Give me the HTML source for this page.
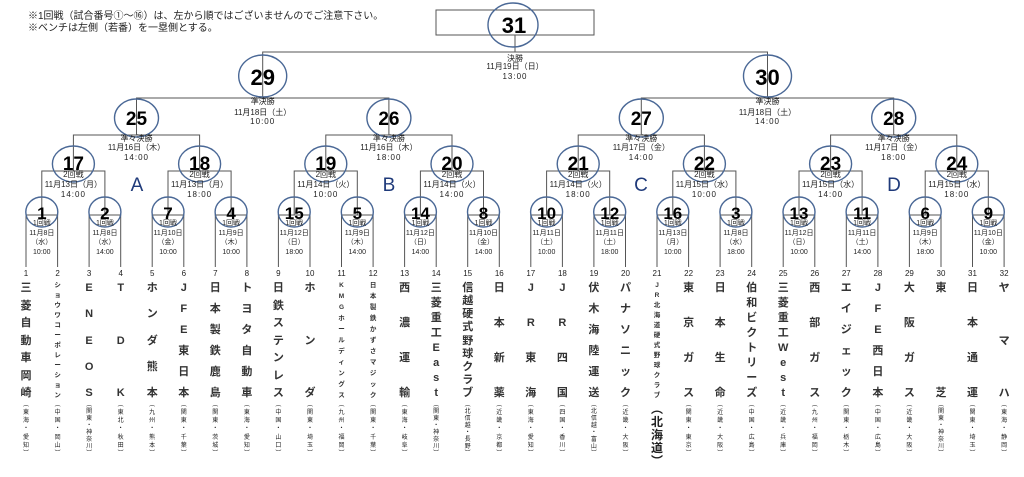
<!DOCTYPE html>
<html><head><meta charset="utf-8">
<style>
body{margin:0;background:#fff;}
#w{position:relative;width:1024px;height:477px;overflow:hidden;font-family:"Liberation Sans","Noto Sans CJK JP",sans-serif;color:#222;}
svg{position:absolute;left:0;top:0;}
.h{position:absolute;left:28px;font-size:10px;line-height:12px;white-space:nowrap;}
.t{position:absolute;top:268px;width:30px;margin-left:-15px;height:200px;}
.n{position:absolute;top:1px;width:30px;text-align:center;font-size:8px;line-height:10px;}
.m{position:absolute;top:14px;height:117px;width:30px;display:flex;flex-direction:column;justify-content:space-between;align-items:center;font-size:11px;line-height:12px;font-weight:bold;color:#333;}
.m.s{font-size:6.5px;line-height:7px;}
.r{position:absolute;top:134px;height:55px;width:30px;display:flex;flex-direction:column;justify-content:space-between;align-items:center;font-size:6px;line-height:6px;}
.r.b{font-size:12px;line-height:13px;top:135px;font-weight:bold;}
</style></head><body><div id="w">
<div class="h" style="top:11px">※1回戦（試合番号①～⑯）は、左から順ではございませんのでご注意下さい。</div>
<div class="h" style="top:23px">※ベンチは左側（若番）を一塁側とする。</div>
<svg width="1024" height="477" viewBox="0 0 1024 477" font-family="Liberation Sans, Noto Sans CJK JP, sans-serif">
<g fill="none" stroke="#555" stroke-width="1">
<rect x="436" y="10" width="158" height="25"/>
<path d="M515 35V52M262.7 98V52H767.5V98"/>
<path d="M136.5 135V98H388.9V135M641.3 135V98H893.7V135"/>
<path d="M73.4 171V135H199.6V171M325.8 171V135H452V171M578.2 171V135H704.4V171M830.6 171V135H956.8V171"/>
<path d="M41.8 215V171H104.9V215M168 215V171H231.1V215M294.2 215V171H357.3V215M420.4 215V171H483.5V215M546.6 215V171H609.7V215M672.8 215V171H735.9V215M799 215V171H862.1V215M925.2 215V171H988.3V215"/>
<path d="M26 267V215H57.6V267M89.1 267V215H120.7V267M152.2 267V215H183.8V267M215.3 267V215H246.9V267M278.4 267V215H310V267M341.5 267V215H373.1V267M404.6 267V215H436.2V267M467.7 267V215H499.3V267M530.8 267V215H562.4V267M593.9 267V215H625.5V267M657 267V215H688.6V267M720.1 267V215H751.7V267M783.2 267V215H814.8V267M846.3 267V215H877.9V267M909.4 267V215H941V267M972.5 267V215H1004.1V267"/>
</g>
<g fill="none" stroke="#4a6896" stroke-width="1.4">
<ellipse cx="513" cy="25" rx="25" ry="22"/>
<ellipse cx="262.7" cy="76" rx="24" ry="21"/><ellipse cx="767.5" cy="76" rx="24" ry="21"/>
<ellipse cx="136.5" cy="118" rx="22" ry="19"/><ellipse cx="388.9" cy="118" rx="22" ry="19"/><ellipse cx="641.3" cy="118" rx="22" ry="19"/><ellipse cx="893.7" cy="118" rx="22" ry="19"/>
<ellipse cx="73.4" cy="164" rx="21" ry="18"/><ellipse cx="199.6" cy="164" rx="21" ry="18"/><ellipse cx="325.8" cy="164" rx="21" ry="18"/><ellipse cx="452" cy="164" rx="21" ry="18"/><ellipse cx="578.2" cy="164" rx="21" ry="18"/><ellipse cx="704.4" cy="164" rx="21" ry="18"/><ellipse cx="830.6" cy="164" rx="21" ry="18"/><ellipse cx="956.8" cy="164" rx="21" ry="18"/>
<ellipse cx="41.8" cy="212" rx="16" ry="15"/><ellipse cx="104.9" cy="212" rx="16" ry="15"/><ellipse cx="168" cy="212" rx="16" ry="15"/><ellipse cx="231.1" cy="212" rx="16" ry="15"/><ellipse cx="294.2" cy="212" rx="16" ry="15"/><ellipse cx="357.3" cy="212" rx="16" ry="15"/><ellipse cx="420.4" cy="212" rx="16" ry="15"/><ellipse cx="483.5" cy="212" rx="16" ry="15"/><ellipse cx="546.6" cy="212" rx="16" ry="15"/><ellipse cx="609.7" cy="212" rx="16" ry="15"/><ellipse cx="672.8" cy="212" rx="16" ry="15"/><ellipse cx="735.9" cy="212" rx="16" ry="15"/><ellipse cx="799" cy="212" rx="16" ry="15"/><ellipse cx="862.1" cy="212" rx="16" ry="15"/><ellipse cx="925.2" cy="212" rx="16" ry="15"/><ellipse cx="988.3" cy="212" rx="16" ry="15"/>
</g>
<g font-weight="bold" text-anchor="middle" fill="#000">
<g font-size="22"><text x="514" y="33">31</text><text x="262.7" y="85">29</text><text x="767.5" y="85">30</text></g>
<g font-size="19"><text x="136.5" y="125">25</text><text x="388.9" y="125">26</text><text x="641.3" y="125">27</text><text x="893.7" y="125">28</text>
<text x="73.4" y="170">17</text><text x="199.6" y="170">18</text><text x="325.8" y="170">19</text><text x="452" y="170">20</text><text x="578.2" y="170">21</text><text x="704.4" y="170">22</text><text x="830.6" y="170">23</text><text x="956.8" y="170">24</text></g>
<g font-size="17"><text x="41.8" y="219">1</text><text x="104.9" y="219">2</text><text x="168" y="219">7</text><text x="231.1" y="219">4</text><text x="294.2" y="219">15</text><text x="357.3" y="219">5</text><text x="420.4" y="219">14</text><text x="483.5" y="219">8</text><text x="546.6" y="219">10</text><text x="609.7" y="219">12</text><text x="672.8" y="219">16</text><text x="735.9" y="219">3</text><text x="799" y="219">13</text><text x="862.1" y="219">11</text><text x="925.2" y="219">6</text><text x="988.3" y="219">9</text></g>
</g>
<g font-size="19" fill="#1f3a7a" text-anchor="middle"><text x="137" y="191">A</text><text x="389" y="191">B</text><text x="641" y="191">C</text><text x="894" y="191">D</text></g>
<g font-size="8" text-anchor="middle" fill="#222">
<text x="515" y="61">決勝</text><text x="515" y="69">11月19日（日）</text><text x="515" y="79" letter-spacing="1">13:00</text>
<text x="262.7" y="104">準決勝</text><text x="262.7" y="115">11月18日（土）</text><text x="262.7" y="124" letter-spacing="1">10:00</text>
<text x="767.5" y="104">準決勝</text><text x="767.5" y="115">11月18日（土）</text><text x="767.5" y="124" letter-spacing="1">14:00</text>
<text x="136.5" y="141">準々決勝</text><text x="136.5" y="150">11月16日（木）</text><text x="136.5" y="160" letter-spacing="1">14:00</text>
<text x="388.9" y="141">準々決勝</text><text x="388.9" y="150">11月16日（木）</text><text x="388.9" y="160" letter-spacing="1">18:00</text>
<text x="641.3" y="141">準々決勝</text><text x="641.3" y="150">11月17日（金）</text><text x="641.3" y="160" letter-spacing="1">14:00</text>
<text x="893.7" y="141">準々決勝</text><text x="893.7" y="150">11月17日（金）</text><text x="893.7" y="160" letter-spacing="1">18:00</text>
<text x="73.4" y="177">2回戦</text><text x="73.4" y="187">11月13日（月）</text><text x="73.4" y="197" letter-spacing="1">14:00</text>
<text x="199.6" y="177">2回戦</text><text x="199.6" y="187">11月13日（月）</text><text x="199.6" y="197" letter-spacing="1">18:00</text>
<text x="325.8" y="177">2回戦</text><text x="325.8" y="187">11月14日（火）</text><text x="325.8" y="197" letter-spacing="1">10:00</text>
<text x="452" y="177">2回戦</text><text x="452" y="187">11月14日（火）</text><text x="452" y="197" letter-spacing="1">14:00</text>
<text x="578.2" y="177">2回戦</text><text x="578.2" y="187">11月14日（火）</text><text x="578.2" y="197" letter-spacing="1">18:00</text>
<text x="704.4" y="177">2回戦</text><text x="704.4" y="187">11月15日（水）</text><text x="704.4" y="197" letter-spacing="1">10:00</text>
<text x="830.6" y="177">2回戦</text><text x="830.6" y="187">11月15日（水）</text><text x="830.6" y="197" letter-spacing="1">14:00</text>
<text x="956.8" y="177">2回戦</text><text x="956.8" y="187">11月15日（水）</text><text x="956.8" y="197" letter-spacing="1">18:00</text>
</g>
<g font-size="7" text-anchor="middle" fill="#222">
<text x="41.8" y="225">1回戦</text><text x="41.8" y="235">11月8日</text><text x="41.8" y="244">（水）</text><text x="41.8" y="254">10:00</text>
<text x="104.9" y="225">1回戦</text><text x="104.9" y="235">11月8日</text><text x="104.9" y="244">（水）</text><text x="104.9" y="254">14:00</text>
<text x="168" y="225">1回戦</text><text x="168" y="235">11月10日</text><text x="168" y="244">（金）</text><text x="168" y="254">10:00</text>
<text x="231.1" y="225">1回戦</text><text x="231.1" y="235">11月9日</text><text x="231.1" y="244">（木）</text><text x="231.1" y="254">10:00</text>
<text x="294.2" y="225">1回戦</text><text x="294.2" y="235">11月12日</text><text x="294.2" y="244">（日）</text><text x="294.2" y="254">18:00</text>
<text x="357.3" y="225">1回戦</text><text x="357.3" y="235">11月9日</text><text x="357.3" y="244">（木）</text><text x="357.3" y="254">14:00</text>
<text x="420.4" y="225">1回戦</text><text x="420.4" y="235">11月12日</text><text x="420.4" y="244">（日）</text><text x="420.4" y="254">14:00</text>
<text x="483.5" y="225">1回戦</text><text x="483.5" y="235">11月10日</text><text x="483.5" y="244">（金）</text><text x="483.5" y="254">14:00</text>
<text x="546.6" y="225">1回戦</text><text x="546.6" y="235">11月11日</text><text x="546.6" y="244">（土）</text><text x="546.6" y="254">10:00</text>
<text x="609.7" y="225">1回戦</text><text x="609.7" y="235">11月11日</text><text x="609.7" y="244">（土）</text><text x="609.7" y="254">18:00</text>
<text x="672.8" y="225">1回戦</text><text x="672.8" y="235">11月13日</text><text x="672.8" y="244">（月）</text><text x="672.8" y="254">10:00</text>
<text x="735.9" y="225">1回戦</text><text x="735.9" y="235">11月8日</text><text x="735.9" y="244">（水）</text><text x="735.9" y="254">18:00</text>
<text x="799" y="225">1回戦</text><text x="799" y="235">11月12日</text><text x="799" y="244">（日）</text><text x="799" y="254">10:00</text>
<text x="862.1" y="225">1回戦</text><text x="862.1" y="235">11月11日</text><text x="862.1" y="244">（土）</text><text x="862.1" y="254">14:00</text>
<text x="925.2" y="225">1回戦</text><text x="925.2" y="235">11月9日</text><text x="925.2" y="244">（木）</text><text x="925.2" y="254">18:00</text>
<text x="988.3" y="225">1回戦</text><text x="988.3" y="235">11月10日</text><text x="988.3" y="244">（金）</text><text x="988.3" y="254">10:00</text>
</g>
</svg>

<div class="t" style="left:26px"><div class="n">1</div><div class="m"><span>三</span><span>菱</span><span>自</span><span>動</span><span>車</span><span>岡</span><span>崎</span></div><div class="r"><span>︵</span><span>東</span><span>海</span><span>・</span><span>愛</span><span>知</span><span>︶</span></div></div>
<div class="t" style="left:57.6px"><div class="n">2</div><div class="m s"><span>シ</span><span>ョ</span><span>ウ</span><span>ワ</span><span>コ</span><span>ー</span><span>ポ</span><span>レ</span><span>ー</span><span>シ</span><span>ョ</span><span>ン</span></div><div class="r"><span>︵</span><span>中</span><span>国</span><span>・</span><span>岡</span><span>山</span><span>︶</span></div></div>
<div class="t" style="left:89.1px"><div class="n">3</div><div class="m"><span>E</span><span>N</span><span>E</span><span>O</span><span>S</span></div><div class="r"><span>︵</span><span>関</span><span>東</span><span>・</span><span>神</span><span>奈</span><span>川</span><span>︶</span></div></div>
<div class="t" style="left:120.7px"><div class="n">4</div><div class="m"><span>T</span><span>D</span><span>K</span></div><div class="r"><span>︵</span><span>東</span><span>北</span><span>・</span><span>秋</span><span>田</span><span>︶</span></div></div>
<div class="t" style="left:152.2px"><div class="n">5</div><div class="m"><span>ホ</span><span>ン</span><span>ダ</span><span>熊</span><span>本</span></div><div class="r"><span>︵</span><span>九</span><span>州</span><span>・</span><span>熊</span><span>本</span><span>︶</span></div></div>
<div class="t" style="left:183.8px"><div class="n">6</div><div class="m"><span>J</span><span>F</span><span>E</span><span>東</span><span>日</span><span>本</span></div><div class="r"><span>︵</span><span>関</span><span>東</span><span>・</span><span>千</span><span>葉</span><span>︶</span></div></div>
<div class="t" style="left:215.3px"><div class="n">7</div><div class="m"><span>日</span><span>本</span><span>製</span><span>鉄</span><span>鹿</span><span>島</span></div><div class="r"><span>︵</span><span>関</span><span>東</span><span>・</span><span>茨</span><span>城</span><span>︶</span></div></div>
<div class="t" style="left:246.9px"><div class="n">8</div><div class="m"><span>ト</span><span>ヨ</span><span>タ</span><span>自</span><span>動</span><span>車</span></div><div class="r"><span>︵</span><span>東</span><span>海</span><span>・</span><span>愛</span><span>知</span><span>︶</span></div></div>
<div class="t" style="left:278.4px"><div class="n">9</div><div class="m"><span>日</span><span>鉄</span><span>ス</span><span>テ</span><span>ン</span><span>レ</span><span>ス</span></div><div class="r"><span>︵</span><span>中</span><span>国</span><span>・</span><span>山</span><span>口</span><span>︶</span></div></div>
<div class="t" style="left:310px"><div class="n">10</div><div class="m"><span>ホ</span><span>ン</span><span>ダ</span></div><div class="r"><span>︵</span><span>関</span><span>東</span><span>・</span><span>埼</span><span>玉</span><span>︶</span></div></div>
<div class="t" style="left:341.5px"><div class="n">11</div><div class="m s"><span>K</span><span>M</span><span>G</span><span>ホ</span><span>ー</span><span>ル</span><span>デ</span><span>ィ</span><span>ン</span><span>グ</span><span>ス</span></div><div class="r"><span>︵</span><span>九</span><span>州</span><span>・</span><span>福</span><span>岡</span><span>︶</span></div></div>
<div class="t" style="left:373.1px"><div class="n">12</div><div class="m s"><span>日</span><span>本</span><span>製</span><span>鉄</span><span>か</span><span>ず</span><span>さ</span><span>マ</span><span>ジ</span><span>ッ</span><span>ク</span></div><div class="r"><span>︵</span><span>関</span><span>東</span><span>・</span><span>千</span><span>葉</span><span>︶</span></div></div>
<div class="t" style="left:404.6px"><div class="n">13</div><div class="m"><span>西</span><span>濃</span><span>運</span><span>輸</span></div><div class="r"><span>︵</span><span>東</span><span>海</span><span>・</span><span>岐</span><span>阜</span><span>︶</span></div></div>
<div class="t" style="left:436.2px"><div class="n">14</div><div class="m"><span>三</span><span>菱</span><span>重</span><span>工</span><span>E</span><span>a</span><span>s</span><span>t</span></div><div class="r"><span>︵</span><span>関</span><span>東</span><span>・</span><span>神</span><span>奈</span><span>川</span><span>︶</span></div></div>
<div class="t" style="left:467.7px"><div class="n">15</div><div class="m"><span>信</span><span>越</span><span>硬</span><span>式</span><span>野</span><span>球</span><span>ク</span><span>ラ</span><span>ブ</span></div><div class="r"><span>︵</span><span>北</span><span>信</span><span>越</span><span>・</span><span>長</span><span>野</span><span>︶</span></div></div>
<div class="t" style="left:499.3px"><div class="n">16</div><div class="m"><span>日</span><span>本</span><span>新</span><span>薬</span></div><div class="r"><span>︵</span><span>近</span><span>畿</span><span>・</span><span>京</span><span>都</span><span>︶</span></div></div>
<div class="t" style="left:530.8px"><div class="n">17</div><div class="m"><span>J</span><span>R</span><span>東</span><span>海</span></div><div class="r"><span>︵</span><span>東</span><span>海</span><span>・</span><span>愛</span><span>知</span><span>︶</span></div></div>
<div class="t" style="left:562.4px"><div class="n">18</div><div class="m"><span>J</span><span>R</span><span>四</span><span>国</span></div><div class="r"><span>︵</span><span>四</span><span>国</span><span>・</span><span>香</span><span>川</span><span>︶</span></div></div>
<div class="t" style="left:593.9px"><div class="n">19</div><div class="m"><span>伏</span><span>木</span><span>海</span><span>陸</span><span>運</span><span>送</span></div><div class="r"><span>︵</span><span>北</span><span>信</span><span>越</span><span>・</span><span>富</span><span>山</span><span>︶</span></div></div>
<div class="t" style="left:625.5px"><div class="n">20</div><div class="m"><span>パ</span><span>ナ</span><span>ソ</span><span>ニ</span><span>ッ</span><span>ク</span></div><div class="r"><span>︵</span><span>近</span><span>畿</span><span>・</span><span>大</span><span>阪</span><span>︶</span></div></div>
<div class="t" style="left:657px"><div class="n">21</div><div class="m s"><span>J</span><span>R</span><span>北</span><span>海</span><span>道</span><span>硬</span><span>式</span><span>野</span><span>球</span><span>ク</span><span>ラ</span><span>ブ</span></div><div class="r b"><span>︵</span><span>北</span><span>海</span><span>道</span><span>︶</span></div></div>
<div class="t" style="left:688.6px"><div class="n">22</div><div class="m"><span>東</span><span>京</span><span>ガ</span><span>ス</span></div><div class="r"><span>︵</span><span>関</span><span>東</span><span>・</span><span>東</span><span>京</span><span>︶</span></div></div>
<div class="t" style="left:720.1px"><div class="n">23</div><div class="m"><span>日</span><span>本</span><span>生</span><span>命</span></div><div class="r"><span>︵</span><span>近</span><span>畿</span><span>・</span><span>大</span><span>阪</span><span>︶</span></div></div>
<div class="t" style="left:751.7px"><div class="n">24</div><div class="m"><span>伯</span><span>和</span><span>ビ</span><span>ク</span><span>ト</span><span>リ</span><span>ー</span><span>ズ</span></div><div class="r"><span>︵</span><span>中</span><span>国</span><span>・</span><span>広</span><span>島</span><span>︶</span></div></div>
<div class="t" style="left:783.2px"><div class="n">25</div><div class="m"><span>三</span><span>菱</span><span>重</span><span>工</span><span>W</span><span>e</span><span>s</span><span>t</span></div><div class="r"><span>︵</span><span>近</span><span>畿</span><span>・</span><span>兵</span><span>庫</span><span>︶</span></div></div>
<div class="t" style="left:814.8px"><div class="n">26</div><div class="m"><span>西</span><span>部</span><span>ガ</span><span>ス</span></div><div class="r"><span>︵</span><span>九</span><span>州</span><span>・</span><span>福</span><span>岡</span><span>︶</span></div></div>
<div class="t" style="left:846.3px"><div class="n">27</div><div class="m"><span>エ</span><span>イ</span><span>ジ</span><span>ェ</span><span>ッ</span><span>ク</span></div><div class="r"><span>︵</span><span>関</span><span>東</span><span>・</span><span>栃</span><span>木</span><span>︶</span></div></div>
<div class="t" style="left:877.9px"><div class="n">28</div><div class="m"><span>J</span><span>F</span><span>E</span><span>西</span><span>日</span><span>本</span></div><div class="r"><span>︵</span><span>中</span><span>国</span><span>・</span><span>広</span><span>島</span><span>︶</span></div></div>
<div class="t" style="left:909.4px"><div class="n">29</div><div class="m"><span>大</span><span>阪</span><span>ガ</span><span>ス</span></div><div class="r"><span>︵</span><span>近</span><span>畿</span><span>・</span><span>大</span><span>阪</span><span>︶</span></div></div>
<div class="t" style="left:941px"><div class="n">30</div><div class="m"><span>東</span><span>芝</span></div><div class="r"><span>︵</span><span>関</span><span>東</span><span>・</span><span>神</span><span>奈</span><span>川</span><span>︶</span></div></div>
<div class="t" style="left:972.5px"><div class="n">31</div><div class="m"><span>日</span><span>本</span><span>通</span><span>運</span></div><div class="r"><span>︵</span><span>関</span><span>東</span><span>・</span><span>埼</span><span>玉</span><span>︶</span></div></div>
<div class="t" style="left:1004.1px"><div class="n">32</div><div class="m"><span>ヤ</span><span>マ</span><span>ハ</span></div><div class="r"><span>︵</span><span>東</span><span>海</span><span>・</span><span>静</span><span>岡</span><span>︶</span></div></div>
</div></body></html>
